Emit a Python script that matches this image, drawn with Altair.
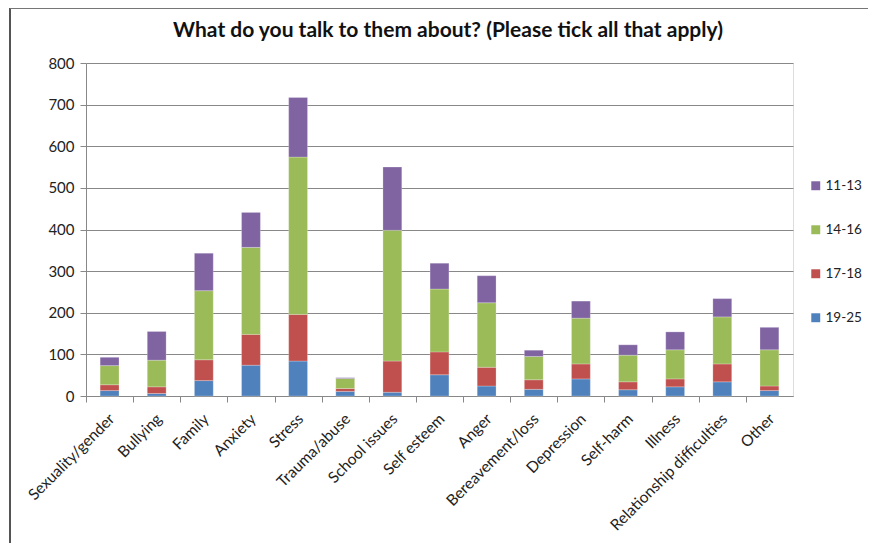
import altair as alt
import pandas as pd

categories = ["Sexuality/gender", "Bullying", "Family", "Anxiety", "Stress",
              "Trauma/abuse", "School issues", "Self esteem", "Anger",
              "Bereavement/loss", "Depression", "Self-harm", "Illness",
              "Relationship difficulties", "Other"]
age_19_25 = [13, 6, 37, 74, 84, 11, 9, 51, 24, 16, 41, 15, 22, 34, 13]
age_17_18 = [14, 16, 50, 74, 112, 7, 75, 55, 45, 23, 36, 19, 19, 43, 11]
age_14_16 = [46, 64, 166, 209, 378, 24, 314, 151, 155, 56, 110, 64, 70, 113, 87]
age_11_13 = [20, 69, 90, 84, 143, 2, 152, 62, 65, 15, 41, 25, 43, 44, 54]
title_text = ["What do you talk to them about? (Please tick all that apply)"]

series = [("19-25", age_19_25), ("17-18", age_17_18), ("14-16", age_14_16), ("11-13", age_11_13)]
rows = []
for order, (name, vals) in enumerate(series):
    for c, v in zip(categories, vals):
        rows.append({"topic": c, "age": name, "count": v, "ord": order})
df = pd.DataFrame(rows)
title_df = pd.DataFrame({"t": title_text})

legend_domain = ["11-13", "14-16", "17-18", "19-25"]
legend_colors = ["#8064A2", "#9BBB59", "#C0504D", "#4F81BD"]

FONT = "Lato"
W, H = 707, 333
PL, PT = 78, 55
HALF_STEP = W / 15 / 2

bars = alt.Chart(df).mark_bar(stroke="white", strokeWidth=0.4, strokeOpacity=0.6).encode(
    x=alt.X("topic:N", sort=categories, title=None,
            scale=alt.Scale(paddingInner=0.6, paddingOuter=0.3),
            axis=alt.Axis(labelAngle=315, labelAlign="right", labelBaseline="middle",
                          labelFontSize=15.5, labelColor="#222", labelFont=FONT,
                          labelPadding=14, tickOffset=-HALF_STEP, labelOffset=HALF_STEP + 2,
                          ticks=True, tickSize=6,
                          tickColor="#888", domainColor="#888", labelOverlap=False)),
    y=alt.Y("count:Q", stack="zero", title=None,
            scale=alt.Scale(domain=[0, 800], nice=False),
            axis=alt.Axis(values=list(range(0, 801, 100)), labelFontSize=15,
                          labelColor="#222", labelFont=FONT, tickSize=6,
                          tickColor="#888", domainColor="#888", gridColor="#888",
                          gridWidth=1, labelPadding=6)),
    color=alt.Color("age:N", scale=alt.Scale(domain=legend_domain, range=legend_colors),
                    title=None,
                    legend=alt.Legend(orient="none", legendX=723, legendY=116,
                                      symbolType="square", symbolSize=80,
                                      symbolStrokeWidth=0, labelFontSize=13.5,
                                      labelFont=FONT, labelColor="#222",
                                      rowPadding=29, labelOffset=3)),
    order=alt.Order("ord:Q", sort="ascending"),
)

title = alt.Chart(title_df).mark_text(font=FONT, fontSize=21, fontWeight="bold",
                                      color="#111", align="center",
                                      baseline="alphabetic").encode(
    text="t:N", x=alt.value(362), y=alt.value(-26))

border_left = alt.Chart(df).mark_rule(color="#555", strokeWidth=1.2).encode(
    x=alt.value(-PL + 2), y=alt.value(-PT), y2=alt.value(600))
border_top = alt.Chart(df).mark_rule(color="#777", strokeWidth=1.2).encode(
    x=alt.value(-PL + 2), x2=alt.value(900), y=alt.value(-PT))

chart = alt.layer(bars, title, border_left, border_top).properties(
    width=W, height=H,
    autosize=alt.AutoSizeParams(type="none"),
    padding={"left": PL, "top": PT, "right": 860 - PL - W, "bottom": 535 - PT - H},
).configure_view(stroke=None).configure(background="white")

chart.save("out.html", embed_options={"renderer": "svg", "actions": False})
